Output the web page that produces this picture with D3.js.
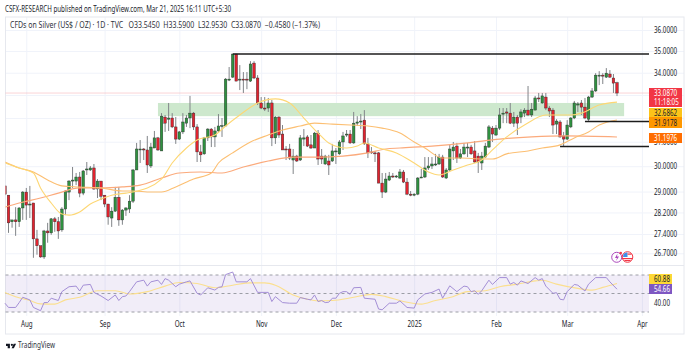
<!DOCTYPE html>
<html>
<head>
<meta charset="utf-8">
<title>Silver daily</title>
<script src="https://cdn.jsdelivr.net/npm/d3@7/dist/d3.min.js"></script>
<style>
  html, body { margin: 0; padding: 0; background: #fff; }
  svg { display: block; font-family: "Noto Sans", sans-serif; }
  .grid line { stroke: #f0f3fa; stroke-width: 1; }
  .grid path { display: none; }
  .axis path, .axis line { display: none; }
  .axis text { fill: #20232c; font-size: 8px; font-family: "Noto Sans", sans-serif; }
</style>
</head>
<body>
<svg id="chart" width="690" height="356"></svg>
<script>
// Part 1: Data
const opens = [
  29.22,28.86,27.85,27.92,27.85,28.37,28.98,28.50,28.56,27.22,26.97,26.57,27.51,27.44,27.96,27.85,27.55,28.33,28.98,29.41,
  29.41,29.57,28.94,29.85,29.85,29.93,29.10,29.41,28.86,28.52,27.99,28.25,28.78,27.92,28.29,28.33,28.63,29.85,30.66,30.70,
  30.66,30.01,30.74,31.16,30.62,32.04,31.95,32.00,31.62,31.11,31.41,31.78,32.00,32.21,31.62,30.58,30.50,31.16,31.53,31.20,
  31.45,31.66,31.66,33.67,33.80,34.86,33.67,33.71,33.71,33.62,34.44,33.76,32.65,32.43,32.43,32.65,31.16,32.04,31.32,30.70,
  30.70,30.25,30.41,30.25,31.11,31.20,30.87,30.74,31.36,30.41,30.09,30.21,30.21,30.58,30.50,30.99,31.28,31.32,30.95,31.78,
  31.83,31.91,30.91,30.58,30.54,30.54,29.33,28.98,29.45,29.61,29.57,29.53,29.77,29.37,28.90,28.86,28.90,29.53,29.57,29.93,
  30.01,30.05,30.09,30.37,29.53,29.85,30.62,30.82,30.33,30.50,30.74,30.78,30.62,30.41,30.13,30.37,30.78,31.57,31.28,31.57,
  32.17,32.26,32.21,31.78,32.04,32.04,32.21,32.34,32.13,32.34,32.87,32.65,32.91,32.43,32.34,31.74,31.83,31.24,31.11,31.62,
  32.00,32.56,32.65,32.47,31.95,32.91,33.18,33.85,33.89,33.80,33.94,33.76,33.545];
const highs = [
  29.22,28.86,27.92,28.40,28.40,29.02,29.14,29.22,28.56,27.55,26.97,27.55,27.81,27.99,28.03,28.03,28.40,29.06,29.45,29.97,
  29.73,29.77,29.85,30.17,30.01,30.09,29.49,29.41,28.86,28.52,28.40,29.18,29.18,28.33,28.40,28.86,29.89,30.95,31.07,30.74,
  31.24,30.95,31.45,31.20,32.21,32.13,32.65,32.21,32.04,31.45,32.21,32.13,32.96,32.26,31.74,30.87,31.20,31.57,31.57,31.62,
  32.17,32.00,33.76,34.26,34.86,34.86,34.35,34.03,34.03,34.53,34.53,33.89,32.91,32.91,32.87,32.78,32.08,32.08,31.70,30.82,
  30.91,30.70,30.46,31.28,31.53,31.28,31.28,31.41,31.49,30.70,30.46,30.46,30.91,30.74,31.07,31.41,31.49,31.49,32.26,32.08,
  32.17,32.34,31.16,30.78,30.62,30.58,29.73,29.73,29.77,29.73,29.65,29.89,29.85,29.53,29.02,28.94,29.57,29.89,30.37,30.37,
  30.37,30.50,30.50,30.46,29.93,30.87,30.99,30.95,30.70,30.95,30.95,30.87,31.03,30.54,30.58,30.95,31.70,31.66,31.70,32.43,
  32.43,32.43,32.65,32.26,32.13,32.38,32.43,33.40,32.65,32.96,33.09,33.09,33.09,32.52,32.43,31.95,31.91,31.41,31.91,32.04,
  32.74,32.69,32.78,32.87,32.96,33.31,33.98,34.07,33.98,34.21,34.12,33.94,33.59];
const lows = [
  28.86,27.44,27.63,27.33,27.66,27.92,27.92,27.99,26.54,26.65,26.54,26.50,27.08,27.37,27.48,27.22,27.48,28.10,28.67,29.14,
  29.25,28.78,28.86,29.65,29.81,29.06,28.75,28.67,28.40,27.74,27.66,28.22,27.70,27.74,28.07,28.18,28.56,29.85,30.13,30.25,
  29.73,29.93,30.74,30.62,30.62,31.41,31.45,31.57,30.91,31.07,31.32,31.62,31.57,31.49,30.17,30.17,30.46,31.03,30.78,30.78,
  31.41,31.20,31.66,33.62,33.76,33.62,33.22,33.09,33.26,33.58,33.71,32.56,32.38,32.30,32.26,30.82,30.91,31.16,30.66,30.25,
  30.25,29.69,30.17,30.21,30.82,30.78,30.70,30.74,30.05,30.09,30.05,29.65,30.17,30.09,30.46,30.66,31.20,30.91,30.91,31.66,
  31.53,30.87,30.33,30.50,30.17,29.33,28.75,28.94,29.41,29.53,29.53,29.49,29.33,28.86,28.82,28.82,28.86,29.53,29.53,29.85,
  29.89,30.01,30.05,29.53,29.49,29.81,30.25,30.13,30.29,30.46,30.37,30.46,30.13,29.73,29.85,30.33,30.74,30.99,31.24,31.49,
  31.78,31.78,31.74,31.62,31.28,31.78,32.04,32.08,32.04,32.34,32.69,32.61,32.34,32.04,31.32,31.32,31.16,30.82,31.07,31.57,
  31.95,32.26,32.13,31.95,31.83,32.87,33.13,33.44,33.49,33.76,33.76,33.09,32.953];
const closes = [
  28.90,27.81,27.92,27.85,28.37,28.98,28.48,28.52,27.22,26.97,26.57,27.51,27.44,27.96,27.85,27.51,28.33,29.02,29.41,29.45,
  29.57,28.94,29.81,29.89,29.93,29.10,29.41,28.82,28.52,28.03,28.25,28.78,27.92,28.29,28.37,28.63,29.85,30.70,30.70,30.66,
  30.05,30.78,31.16,30.66,32.08,31.78,32.00,31.62,31.11,31.41,31.83,32.00,32.21,31.62,30.58,30.46,31.16,31.53,31.20,31.45,
  31.66,31.68,33.71,33.71,34.86,33.62,33.71,33.67,33.67,34.40,33.76,32.65,32.43,32.41,32.65,31.16,32.04,31.28,30.66,30.66,
  30.33,30.41,30.21,31.16,31.16,30.82,30.74,31.36,30.29,30.29,30.41,30.05,30.62,30.62,30.99,31.24,31.32,30.95,31.78,31.83,
  31.87,30.91,30.54,30.54,30.50,29.33,28.98,29.49,29.61,29.57,29.61,29.77,29.37,28.90,28.86,28.90,29.53,29.57,29.93,30.01,
  30.09,30.09,30.37,29.57,29.85,30.70,30.78,30.33,30.50,30.78,30.78,30.50,30.17,30.17,30.41,30.82,31.62,31.32,31.57,32.13,
  32.21,32.21,31.78,32.04,31.78,32.26,32.34,32.13,32.38,32.87,32.83,32.96,32.43,32.30,31.70,31.87,31.20,31.11,31.70,32.00,
  32.65,32.61,32.47,32.00,32.91,33.18,33.89,33.89,33.85,33.98,33.80,33.53,33.087];

const ma20Bars = [0,4,8,10,13,16,18,21,24,27,30,34,36,44,47,51,54,59,62,66,71,76,80,84,88,91,96,99,101,105,110,115,119,122,126,130,134,137,141,146,152,159,162,167,172];
const ma20 = [30.13,29.93,29.73,29.14,28.56,28.14,28.10,28.22,28.52,28.71,28.86,28.94,28.98,29.49,30.13,30.74,31.07,31.28,31.66,32.13,32.65,32.83,32.65,32.00,31.36,30.95,30.74,30.82,30.95,30.74,30.54,30.13,29.77,29.65,29.85,30.05,30.25,30.66,31.20,31.70,32.13,32.13,32.21,32.56,32.6862];
const ma50Bars = [0,4,8,12,16,21,27,33,36,41,44,48,53,58,60,64,69,74,78,83,87,92,97,102,106,111,115,118,123,128,134,137,141,147,151,156,160,164,167,172];
const ma50 = [30.17,29.93,29.77,29.45,29.22,29.18,29.14,29.02,29.02,28.98,28.98,29.18,29.49,29.73,30.13,30.54,30.99,31.28,31.49,31.66,31.78,31.74,31.70,31.66,31.57,31.36,30.99,30.74,30.33,30.33,30.29,30.29,30.50,30.62,30.74,30.87,31.16,31.41,31.70,31.9178];
const ma200Bars = [0,4,10,15,21,27,33,38,44,49,55,61,67,74,81,88,95,102,107,111,120,130,139,148,158,172];
const ma200 = [28.40,28.56,28.75,28.94,29.14,29.14,29.18,29.25,29.53,29.73,29.77,29.73,29.97,30.21,30.37,30.37,30.41,30.54,30.70,30.74,30.82,30.95,31.11,31.20,31.24,31.1976];

const rsiBars = [0,1,3,4,5,7,8,10,11,12,13,15,16,18,20,21,22,24,25,27,29,31,32,33,34,35,37,39,40,41,43,44,45,46,48,49,51,52,54,55,57,59,60,61,62,64,65,68,69,71,74,75,76,78,80,82,83,85,
  86,87,88,89,90,91,92,93,94,95,96,97,98,100,101,104,105,106,108,110,111,113,115,116,118,120,122,123,125,127,129,130,131,132,133,134,136,137,139,141,142,143,144,145,147,149,150,151,152,154,155,156,157,158,160,161,163,164,166,169,170,172];
const rsi = [39.5,34.9,34.9,40.2,45.9,43.1,34.9,31.4,40.2,40.2,44.9,42.4,52.0,57.3,58.0,52.7,59.0,59.8,51.2,47.3,42.4,48.4,42.4,46.6,47.3,52.0,62.6,64.4,58.0,62.6,64.4,59.8,66.1,64.4,57.3,60.1,62.6,63.6,50.2,48.4,56.2,53.7,56.6,57.3,70.4,73.2,62.6,62.6,66.1,51.2,51.2,41.3,46.6,40.2,39.5,39.5,45.6,43.8,
  43.1,48.4,41.3,42.4,40.2,40.6,44.9,44.9,50.2,52.0,52.0,49.1,56.2,56.6,44.9,43.8,33.2,32.4,39.5,39.5,42.0,34.9,34.2,43.1,49.5,51.2,54.8,44.9,58.3,52.0,58.0,57.3,52.0,53.0,49.1,53.0,64.4,59.8,67.2,67.2,60.1,61.9,59.0,63.6,60.8,67.2,64.4,66.1,58.0,50.2,50.9,43.8,43.1,52.0,59.8,59.0,52.7,60.1,67.2,67.2,62.6,54.66];
const rsiMaBars = [0,3,7,10,14,17,21,26,31,35,40,45,49,54,59,64,69,73,76,81,85,88,92,98,103,107,112,117,121,125,130,135,139,144,149,151,155,161,165,168,172];
const rsiMa = [51.2,46.6,42.4,38.8,38.5,43.1,45.9,53.0,53.0,49.5,52.0,58.0,61.9,60.8,56.2,59.0,61.5,61.5,59.0,48.4,43.8,42.0,42.4,45.9,49.1,46.6,41.3,38.5,42.4,45.6,52.0,53.0,57.3,60.1,63.6,64.4,60.1,55.5,53.7,56.6,60.88];

const priceTicks = [36,35,34,33,32,31,30,29,28.2,27.4,26.7];
const priceTickLabels = [36,35,34,31,30,29,28.2,27.4,26.7];
const monthBars = [6,28,49,72,93,115,138,158,179];
const monthLabels = ["Aug","Sep","Oct","Nov","Dec","2025","Feb","Mar","Apr"];

const zonePrices = [32.65, 32.08];
const zoneBars = [43, 174];
const levelPrices = [34.86, 31.85, 30.80];
const levelStartBars = [64, 163, 156];
const levelEndBar = 181;

const titleText = "CSFX-RESEARCH published on TradingView.com, Mar 21, 2025 16:11 UTC+5:30";
const legendText = "CFDs on Silver (US$ / OZ) \u00b7 1D \u00b7 TVC   O33.5450  H33.5900  L32.9530  C33.0870  \u22120.4580 (\u22121.37%)";

// Part 2: Select svg and set up scales
const svg = d3.select("#chart");
const plotLeft = 5.5, plotRight = 649, priceTop = 17, priceBottom = 265, rsiBottom = 316, paneRight = 684, paneBottom = 334;
const xScale = d3.scaleLinear().domain([0, 172]).range([4.95, 617]);
const yScale = d3.scaleLog().domain([26.7, 36]).range([253.3, 30]);
const rsiScale = d3.scaleLinear().domain([30, 70]).range([312, 275]);
const bars = d3.range(opens.length);

// the chart font in the picture is narrower than anything installed
const squeeze = (sel, factor) => sel.each(function() {
    d3.select(this).attr("textLength", this.getComputedTextLength() * factor).attr("lengthAdjust", "spacingAndGlyphs");
});
const fitText = (sel, width) => sel.attr("textLength", width).attr("lengthAdjust", "spacingAndGlyphs");

svg.append("clipPath").attr("id", "plotClip").append("rect")
   .attr("x", plotLeft).attr("y", priceTop)
   .attr("width", plotRight - plotLeft).attr("height", priceBottom - priceTop);

// Part 3: Gridlines
svg.append("g").attr("class", "grid")
   .attr("transform", `translate(${plotLeft}, 0)`)
   .call(d3.axisRight(yScale).tickValues(priceTicks).tickSize(paneRight - plotLeft).tickFormat(""));
svg.append("g").attr("class", "grid")
   .attr("transform", `translate(0, ${priceBottom})`)
   .call(d3.axisTop(xScale).tickValues(monthBars).tickSize(priceBottom - priceTop).tickFormat(""));
svg.append("g").attr("class", "grid")
   .attr("transform", `translate(0, ${rsiBottom})`)
   .call(d3.axisTop(xScale).tickValues(monthBars).tickSize(rsiBottom - priceBottom).tickFormat(""));

// pane frame
const frame = svg.append("g").attr("stroke", "#e6e8ee").attr("fill", "none");
frame.append("rect").attr("x", plotLeft).attr("y", priceTop).attr("width", paneRight - plotLeft).attr("height", paneBottom - priceTop);
frame.append("line").attr("x1", plotLeft).attr("x2", paneRight).attr("y1", priceBottom + 0.5).attr("y2", priceBottom + 0.5);

// Part 4: Price pane
const plot = svg.append("g").attr("clip-path", "url(#plotClip)");

plot.append("rect")
    .attr("x", xScale(zoneBars[0])).attr("width", xScale(zoneBars[1]) - xScale(zoneBars[0]))
    .attr("y", yScale(zonePrices[0])).attr("height", yScale(zonePrices[1]) - yScale(zonePrices[0]))
    .attr("fill", "#cde8cd");

plot.append("line")
    .attr("x1", plotLeft).attr("x2", plotRight)
    .attr("y1", yScale(closes[closes.length - 1])).attr("y2", yScale(closes[closes.length - 1]))
    .attr("stroke", "#f7a8ae").attr("stroke-width", 1).attr("stroke-dasharray", "1 1");

const wickAndBody = plot.append("g").selectAll("g").data(bars).join("g");
wickAndBody.append("line")
    .attr("x1", i => xScale(i)).attr("x2", i => xScale(i))
    .attr("y1", i => yScale(highs[i])).attr("y2", i => yScale(lows[i]))
    .attr("stroke", "#808488").attr("stroke-width", 1);
wickAndBody.append("rect")
    .attr("x", i => xScale(i) - 1.3).attr("width", 2.6)
    .attr("y", i => yScale(Math.max(opens[i], closes[i])))
    .attr("height", i => Math.max(1, Math.abs(yScale(opens[i]) - yScale(closes[i]))))
    .attr("fill", i => closes[i] >= opens[i] ? "#2f9140" : "#e0232f")
    .attr("stroke", "#2a2a2a").attr("stroke-width", 0.4);

const maLine = (barList, values) => d3.line()
    .x((d, i) => xScale(barList[i]))
    .y(d => yScale(d))
    .curve(d3.curveMonotoneX)(values);
plot.append("path").attr("d", maLine(ma200Bars, ma200)).attr("fill", "none").attr("stroke", "#fbaa7c").attr("stroke-width", 1.2);
plot.append("path").attr("d", maLine(ma50Bars, ma50)).attr("fill", "none").attr("stroke", "#fcbf72").attr("stroke-width", 1.1);
plot.append("path").attr("d", maLine(ma20Bars, ma20)).attr("fill", "none").attr("stroke", "#fdd774").attr("stroke-width", 1.1);

plot.append("g").selectAll("line").data(levelPrices).join("line")
    .attr("x1", (d, i) => xScale(levelStartBars[i]))
    .attr("x2", xScale(levelEndBar))
    .attr("y1", d => yScale(d)).attr("y2", d => yScale(d))
    .attr("stroke", "#1c1c1c").attr("stroke-width", 1.4);

// Part 5: RSI pane
const rsiPane = svg.append("g");
rsiPane.append("rect")
    .attr("x", plotLeft).attr("width", plotRight - plotLeft)
    .attr("y", rsiScale(70)).attr("height", rsiScale(30) - rsiScale(70))
    .attr("fill", "#7e57c2").attr("fill-opacity", 0.11);
rsiPane.selectAll("line").data([70, 50, 30]).join("line")
    .attr("x1", plotLeft).attr("x2", plotRight)
    .attr("y1", d => rsiScale(d)).attr("y2", d => rsiScale(d))
    .attr("stroke", "#9c9ea6").attr("stroke-width", 1).attr("stroke-dasharray", "3 3");
rsiPane.append("path").attr("d", d3.line().x((d, i) => xScale(rsiMaBars[i])).y(d => rsiScale(d)).curve(d3.curveMonotoneX)(rsiMa))
    .attr("fill", "none").attr("stroke", "#fbdf8e").attr("stroke-width", 1.1);
rsiPane.append("path").attr("d", d3.line().x((d, i) => xScale(rsiBars[i])).y(d => rsiScale(d))(rsi))
    .attr("fill", "none").attr("stroke", "#a48fd6").attr("stroke-width", 1);

// Part 6: Axes
const priceAxisG = svg.append("g").attr("class", "axis")
   .attr("transform", `translate(${plotRight + 5}, 0)`)
   .call(d3.axisRight(yScale).tickValues(priceTickLabels).tickSize(0).tickPadding(0).tickFormat(d3.format(".4f")));
const timeAxisG = svg.append("g").attr("class", "axis")
   .attr("transform", "translate(0, 321)")
   .call(d3.axisBottom(xScale).tickValues(monthBars).tickSize(0).tickPadding(0)
           .tickFormat((d, i) => monthLabels[i]));
const rsiAxisG = svg.append("g").attr("class", "axis")
   .attr("transform", `translate(${plotRight + 5}, 0)`)
   .call(d3.axisRight(rsiScale).tickValues([40]).tickSize(0).tickPadding(0).tickFormat(d3.format(".2f")));
squeeze(priceAxisG.selectAll("text"), 0.78);
squeeze(timeAxisG.selectAll("text"), 0.78);
squeeze(rsiAxisG.selectAll("text"), 0.78);

// Part 7: Last value labels on the right
const valueLabels = [
  {text: ["33.0870", "11:18:05"], top: 88, bottom: 107, fill: "#f23645", color: "#fff"},
  {text: ["32.6862"], top: 108, bottom: 117, fill: "#fcc419", color: "#20232c"},
  {text: ["31.9178"], top: 117, bottom: 128, fill: "#ff9800", color: "#20232c"},
  {text: ["31.1976"], top: 133, bottom: 143, fill: "#ff6d00", color: "#fff"},
  {text: ["60.88"], top: 274, bottom: 284, fill: "#fdd835", color: "#20232c", right: 672},
  {text: ["54.66"], top: 284, bottom: 294, fill: "#7e57c2", color: "#fff", right: 672}
];
const labelG = svg.append("g").selectAll("g").data(valueLabels).join("g");
labelG.append("rect")
    .attr("x", plotRight).attr("y", d => d.top)
    .attr("width", d => (d.right || 682) - plotRight).attr("height", d => d.bottom - d.top)
    .attr("fill", d => d.fill);
labelG.each(function(d) {
    const lineHeight = (d.bottom - d.top) / d.text.length;
    const labelText = d3.select(this).selectAll("text").data(d.text).join("text")
      .attr("x", plotRight + 5)
      .attr("y", (t, i) => d.top + lineHeight * (i + 0.5) + 3)
      .attr("font-size", 8).attr("fill", d.color).text(t => t);
    squeeze(labelText, 0.78);
});

// Part 8: Title, legend, event icons, logo
fitText(svg.append("text").attr("x", 5).attr("y", 12).attr("font-size", 8.6).attr("fill", "#20232c").text(titleText), 226);
fitText(svg.append("text").attr("x", 10).attr("y", 28).attr("font-size", 8).attr("fill", "#30333c")
   .attr("xml:space", "preserve").text(legendText), 310);

const icons = svg.append("g");
icons.append("circle").attr("cx", 616.7).attr("cy", 257.3).attr("r", 5).attr("fill", "#fff").attr("stroke", "#ab47bc").attr("stroke-width", 1);
icons.append("path").attr("d", "M617.5 253.5 L615 258 L617 258 L616 261 L619 256.5 L617 256.5 Z").attr("fill", "#ab47bc");
icons.append("circle").attr("cx", 627.5).attr("cy", 257).attr("r", 5.3).attr("fill", "#fff").attr("stroke", "#f23645").attr("stroke-width", 1);
icons.append("path").attr("d", "M623.5 254 A4.6 4.6 0 0 1 627.5 252.5 L627.5 257 L623 257 Z").attr("fill", "#3f8fe8");
icons.append("rect").attr("x", 627.5).attr("y", 253.5).attr("width", 4).attr("height", 1.2).attr("fill", "#f23645");
icons.append("rect").attr("x", 623).attr("y", 258).attr("width", 9).attr("height", 1.2).attr("fill", "#f23645");
icons.append("rect").attr("x", 624.5).attr("y", 260).attr("width", 6).attr("height", 1.1).attr("fill", "#f23645");
icons.append("circle").attr("cx", 620.7).attr("cy", 253).attr("r", 1.3).attr("fill", "#f23645");

svg.append("g").attr("transform", "translate(6, 342) scale(0.28)")
   .append("path")
   .attr("d", "M14 6H0v8h6v8h8V6Zm14 16h-8l7.5-16H36l-8 16Zm-7-8a4 4 0 1 0 0-8 4 4 0 0 0 0 8Z")
   .attr("fill", "#131722");
fitText(svg.append("text").attr("x", 18).attr("y", 348).attr("font-size", 8.6).attr("fill", "#30333c").text("TradingView"), 37);
</script>
</body>
</html>
